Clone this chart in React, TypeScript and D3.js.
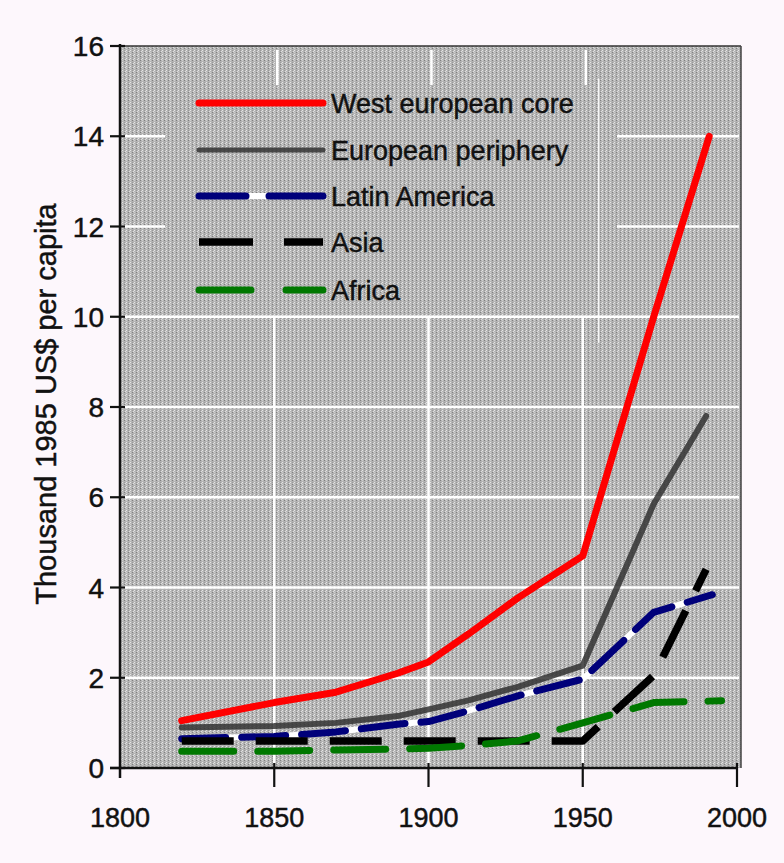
import React from "react";
import * as d3 from "d3";

const years = [1820, 1850, 1870, 1890, 1900, 1913, 1929, 1950, 1973];
const seriesNames = ["West european core", "European periphery", "Latin America", "Asia", "Africa"];
const westCore = [1.05, 1.45, 1.68, 2.1, 2.35, 2.97, 3.77, 4.7, 10.0];
const periphery = [0.9, 0.93, 1.0, 1.15, 1.3, 1.5, 1.8, 2.27, 5.85];
const latinAmerica = [0.65, 0.7, 0.8, 0.97, 1.03, 1.27, 1.6, 1.97, 3.45];
const asia = [0.6, 0.6, 0.6, 0.6, 0.6, 0.6, 0.6, 0.6, 2.05];
const africa = [0.37, 0.37, 0.4, 0.42, 0.44, 0.5, 0.6, 1.0, 1.45];
const endYears = [1991, 1990, 1992, 1990, 1995];
const endValues = [14.0, 7.8, 3.84, 4.4, 1.49];
const xTicks = [1800, 1850, 1900, 1950, 2000];
const yTicks = [0, 2, 4, 6, 8, 10, 12, 14, 16];
const yTitle = "Thousand 1985 US$ per capita";

const W = 784;
const H = 863;
const x = d3.scaleLinear().domain([1800, 2000]).range([120, 737]);
const y = d3.scaleLinear().domain([0, 16]).range([768, 46]);

type Style = { color: string; width: number; dash?: string; cap: string; underlay?: string; opacity?: number };
const styles: Style[] = [
  { color: "#ff0000", width: 7, cap: "round" },
  { color: "#333333", width: 6, cap: "round", opacity: 0.85 },
  { color: "#00007a", width: 7, dash: "44 16", cap: "round", underlay: "#ffffff" },
  { color: "#000000", width: 7.5, dash: "52 22", cap: "butt" },
  { color: "#007800", width: 7, dash: "52 24", cap: "round" },
];
const legendDash = [undefined, undefined, "47 23 60", "54 31 45", "52 35 45"];

const textStyle = { fill: "#111", stroke: "#111", strokeWidth: 0.45 };

export default function App() {
  const valuesList = [westCore, periphery, latinAmerica, asia, africa];
  const line = d3
    .line<[number, number]>()
    .x((d) => x(d[0]))
    .y((d) => y(d[1]))
    .curve(d3.curveLinear);

  const paths = valuesList.map((vals, i) => {
    const pts: [number, number][] = years.map((yr, j) => [yr, vals[j]]);
    pts.push([endYears[i], endValues[i]]);
    return line(pts) || "";
  });

  const legendY = [103, 150, 196, 242, 290];
  const legendX0 = 199;
  const legendX1 = 323;

  const left = x(1800);
  const right = 741;
  const top = y(16);
  const bottom = y(0);
  const legTop = 85;
  const legLeft = 165;
  const legRight = 617;

  return (
    <div style={{ position: "fixed", left: 0, top: 0, width: W, height: H, background: "#fdf7fc" }}>
      <svg width={W} height={H} style={{ display: "block", fontFamily: "'Liberation Sans', Arial, sans-serif" }}>
        <defs>
          <pattern id="stip" width="4" height="4" patternUnits="userSpaceOnUse">
            <rect width="4" height="4" fill="#b4b4b4" />
            <rect x="0" y="0" width="1" height="1" fill="#808080" />
            <rect x="2" y="2" width="1" height="1" fill="#e6e6e6" />
            <rect x="2" y="0" width="1" height="1" fill="#d0d0d0" />
            <rect x="0" y="2" width="1" height="1" fill="#989898" />
            <rect x="1" y="3" width="1" height="1" fill="#dddddd" />
          </pattern>
        </defs>
        {/* plot background */}
        <rect x={left} y={top} width={right - left} height={bottom - top} fill="url(#stip)" />
        <line x1={left} x2={right} y1={top} y2={top} stroke="#333" strokeWidth={1.5} />
        <line x1={right} x2={right} y1={top} y2={bottom} stroke="#444" strokeWidth={1.5} />

        {/* horizontal gridlines */}
        {yTicks.filter((t) => t > 0 && t < 16).map((t) =>
          t >= 12 ? (
            <g key={t}>
              <line x1={left} x2={legLeft} y1={y(t)} y2={y(t)} stroke="#fff" strokeWidth={2.5} />
              <line x1={legRight} x2={right - 2} y1={y(t)} y2={y(t)} stroke="#fff" strokeWidth={2.5} />
            </g>
          ) : (
            <line key={t} x1={left} x2={right - 2} y1={y(t)} y2={y(t)} stroke="#fff" strokeWidth={2.5} />
          )
        )}
        {/* vertical gridlines */}
        {xTicks.filter((t) => t > 1800 && t < 2000).map((t) => (
          <g key={t}>
            <line x1={x(t)} x2={x(t)} y1={y(10)} y2={bottom} stroke="#fff" strokeWidth={2.5} />
            <line x1={x(t) + 3} x2={x(t) + 3} y1={top + 4} y2={legTop} stroke="#fff" strokeWidth={2.5} />
            {t === 1950 && (
              <line x1={x(t) + 16} x2={x(t) + 16} y1={legTop - 6} y2={y(10) + 26} stroke="#fff" strokeWidth={1.2} />
            )}
          </g>
        ))}

        {/* data lines */}
        {paths.map((d, i) => {
          const s = styles[i];
          return (
            <g key={seriesNames[i]}>
              {s.underlay && (
                <path d={d} fill="none" stroke={s.underlay} strokeWidth={s.width - 1} strokeLinejoin="round" />
              )}
              <path
                d={d}
                fill="none"
                stroke={s.color}
                strokeWidth={s.width}
                strokeDasharray={s.dash}
                strokeLinecap={s.cap as any}
                strokeLinejoin="round"
                opacity={s.opacity ?? 1}
              />
            </g>
          );
        })}

        {/* legend */}
        {seriesNames.map((name, i) => {
          const s = styles[i];
          const ly = legendY[i];
          return (
            <g key={name}>
              {s.underlay && (
                <line x1={legendX0} x2={legendX1} y1={ly} y2={ly} stroke={s.underlay} strokeWidth={s.width - 1} />
              )}
              <line
                x1={legendX0}
                x2={legendX1}
                y1={ly}
                y2={ly}
                stroke={s.color}
                strokeWidth={i === 1 ? 5 : s.width}
                strokeDasharray={legendDash[i]}
                strokeLinecap={i === 3 ? "butt" : "round"}
                opacity={s.opacity ?? 1}
              />
              <text x={331} y={ly + 10} fontSize={27} {...textStyle}>
                {name}
              </text>
            </g>
          );
        })}

        {/* axes */}
        <line x1={left} x2={left} y1={top - 2} y2={bottom + 10} stroke="#111" strokeWidth={2.5} />
        <line x1={left - 10} x2={x(2000)} y1={bottom} y2={bottom} stroke="#111" strokeWidth={2.5} />
        {yTicks.map((t) => (
          <g key={t}>
            <line x1={left - 10} x2={left + 5} y1={y(t)} y2={y(t)} stroke="#111" strokeWidth={2.2} />
            <text x={104} y={y(t)} dy="0.36em" fontSize={28} textAnchor="end" {...textStyle}>
              {t}
            </text>
          </g>
        ))}
        {xTicks.map((t) => (
          <g key={t}>
            {t > 1800 && (
              <line x1={x(t)} x2={x(t)} y1={bottom - 5} y2={bottom + 19} stroke="#111" strokeWidth={2.2} />
            )}
            <text x={x(t)} y={827} fontSize={27} textAnchor="middle" {...textStyle}>
              {t}
            </text>
          </g>
        ))}
        <text transform={`translate(56, 404) rotate(-90)`} fontSize={29} textAnchor="middle" {...textStyle}>
          {yTitle}
        </text>
      </svg>
    </div>
  );
}
